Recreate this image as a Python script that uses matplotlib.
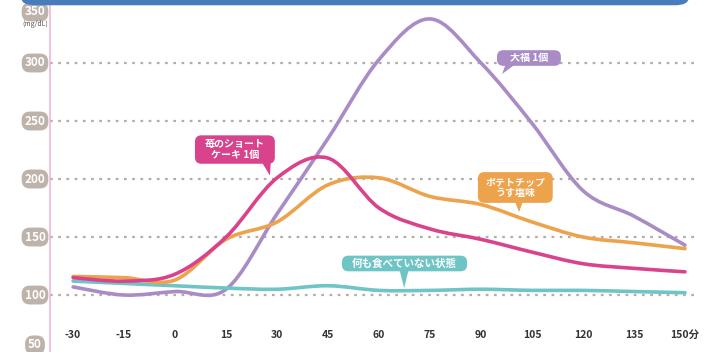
import numpy as np
import matplotlib
matplotlib.use('Agg')
import matplotlib.pyplot as plt
from matplotlib.patches import FancyBboxPatch, PathPatch, Polygon
from matplotlib.path import Path
import matplotlib.transforms as mtransforms

plt.rcParams['font.family'] = ['Noto Sans CJK JP', 'DejaVu Sans']

# minutes after eating
minutes = [-30, -15, 0, 15, 30, 45, 60, 75, 90, 105, 120, 135, 150]
xlabels = ['-30', '-15', '0', '15', '30', '45', '60', '75', '90', '105', '120', '135', '150分']

# blood sugar (mg/dL)
daifuku = [107, 100, 103, 105, 170, 235, 303, 338, 300, 248, 190, 168, 143]
cake = [115, 112, 118, 150, 201, 218, 175, 157, 148, 137, 127, 123, 120]
chips = [116, 115, 113, 148, 163, 195, 201, 185, 178, 163, 150, 145, 140]
nothing = [112, 110, 108, 106, 105, 108, 104, 104, 105, 104, 104, 103, 102]

yticks = [50, 100, 150, 200, 250, 300, 350]

c_purple = '#a98cc6'
c_pink = '#d9438c'
c_orange = '#eda24c'
c_teal = '#6fc4c6'

fig = plt.figure(figsize=(7.1, 3.52), dpi=100)
ax = fig.add_axes([50/710, 0, 655/710, 1])
ax.set_xlim(-36.8, 155.9)
ax.set_ylim(50.9, 354.3)


def smooth_line(xs, ys, color, z):
    # catmull-rom through the points, drawn as bezier path
    x = np.array(xs, float)
    y = np.array(ys, float)
    verts = [(x[0], y[0])]
    codes = [Path.MOVETO]
    n = len(x)
    for i in range(n - 1):
        x0, y0 = (x[i-1], y[i-1]) if i > 0 else (x[i], y[i])
        x3, y3 = (x[i+2], y[i+2]) if i + 2 < n else (x[i+1], y[i+1])
        c1 = (x[i] + (x[i+1] - x0) / 6, y[i] + (y[i+1] - y0) / 6)
        c2 = (x[i+1] - (x3 - x[i]) / 6, y[i+1] - (y3 - y[i]) / 6)
        verts += [c1, c2, (x[i+1], y[i+1])]
        codes += [Path.CURVE4] * 3
    ax.add_patch(PathPatch(Path(verts, codes), fc='none', ec=color, lw=2.6,
                           capstyle='round', joinstyle='round', zorder=z))


# dotted grid
for v in [100, 150, 200, 250, 300]:
    ax.plot([-36.8, 154], [v, v], color='#b5aca6', lw=1.6, ls=(0, (1.2, 2.5)), zorder=1)

smooth_line(minutes, daifuku, c_purple, 2)
smooth_line(minutes, nothing, c_teal, 3)
smooth_line(minutes, chips, c_orange, 3)
smooth_line(minutes, cake, c_pink, 4)


# callouts: box centre / size in data units, tail as a triangle
def callout(txt, cx, cy, w, h, tail, color, fs=7.2):
    box = FancyBboxPatch((cx - w/2, cy - h/2), w, h,
                         boxstyle='round,pad=0,rounding_size=1.9', mutation_aspect=3.4/1.16,
                         fc=color, ec='none', zorder=6)
    ax.add_patch(box)
    ax.add_patch(Polygon(tail, closed=True, fc=color, ec='none', zorder=6))
    ax.text(cx, cy, txt, ha='center', va='center', color='white', fontsize=fs,
            fontweight='bold', linespacing=1.1, zorder=7)

callout('大福 1個', 104.1, 304.3, 18.8, 13.5,
        [(97.4, 300), (100.6, 300), (96.2, 290.5)], c_purple)
callout('苺のショート\nケーキ 1個', 17.6, 225.4, 23.5, 24.5,
        [(25.2, 216), (28.2, 216), (27.9, 203)], c_pink)
callout('ポテトチップ\nうす塩味', 100.1, 192.7, 22, 26.5,
        [(99.7, 183), (102.6, 183), (101.2, 171.5)], c_orange)
callout('何も食べていない状態', 67.5, 127.2, 36.8, 13.5,
        [(65.9, 123), (68.8, 123), (67.4, 106)], c_teal, fs=7.6)

# spines
for s in ['top', 'right', 'bottom']:
    ax.spines[s].set_visible(False)
ax.spines['left'].set_color('#f0b8d4')
ax.spines['left'].set_linewidth(1.2)

ax.set_xticks(minutes)
ax.set_xticklabels(xlabels)
ax.tick_params(axis='x', length=0, pad=-16, labelsize=7.5, labelcolor='#333333')
for t in ax.get_xticklabels():
    t.set_fontweight('bold')

# y labels as grey pills
ax.set_yticks([])
trans = mtransforms.blended_transform_factory(fig.transFigure, ax.transData)
for v in yticks:
    yy = v
    if v == 350:
        yy = 344
    if v == 50:
        yy = 57
    ax.text(35/710, yy, str(v), transform=trans, ha='center', va='center',
            fontsize=8.5, fontweight='bold', color='white', clip_on=False,
            bbox=dict(boxstyle='round,pad=0.25,rounding_size=0.7', fc='#bdb3ab', ec='none'))

fig.text(35/710, 1 - 24/352, '(mg/dL)', fontsize=5, color='#555555', ha='center', va='center')

# blue header band
fig.patches.append(FancyBboxPatch((0.03, 0.985), 0.94, 0.06, boxstyle='round,pad=0,rounding_size=0.02',
                                  transform=fig.transFigure, fc='#4a7cbd', ec='none', zorder=0))

fig.savefig('out.png', dpi=100)
